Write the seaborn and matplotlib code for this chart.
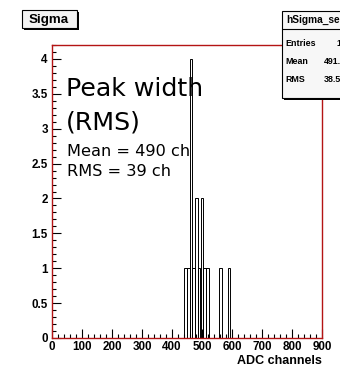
import numpy as np
import pandas as pd
import matplotlib
matplotlib.use("Agg")
import matplotlib.pyplot as plt
from matplotlib.patches import Rectangle
from matplotlib.ticker import MultipleLocator, FuncFormatter
import seaborn as sns

# Histogram of fitted peak widths: 100 bins of 9 ADC channels over 0-900
bin_width = 9
x_max = 900
bin_lows = [441, 450, 459, 468, 477, 486, 495, 504, 513, 558, 585]
bin_counts = [1, 1, 4, 1, 2, 1, 2, 1, 1, 1, 1]

# Statistics box entries
hist_name = "hSigma_sel"
stat_labels = ["Entries", "Mean", "RMS"]
stat_values = ["16", "491.1", "38.52"]

title = "Sigma"
x_title = "ADC channels"
note_lines = ["Peak width", "(RMS)", "Mean = 490 ch", "RMS = 39 ch"]

sns.set_style("ticks")
plt.rcParams["font.family"] = ["Liberation Sans", "DejaVu Sans"]
plt.rcParams["text.color"] = "black"

W, H = 340, 367
fig = plt.figure(figsize=(W / 100, H / 100), dpi=100)
fig.patch.set_facecolor("white")


def fx(px):
    return px / W


def fy(py):
    return 1 - py / H


ax_l, ax_r, ax_t, ax_b = 52, 322, 45, 338
ax = fig.add_axes([fx(ax_l), fy(ax_b), (ax_r - ax_l) / W, (ax_b - ax_t) / H])
ax.set_facecolor("white")

df = pd.DataFrame({"adc": np.array(bin_lows, dtype=float) + bin_width / 2,
                   "n": np.array(bin_counts, dtype=float)})
sns.histplot(data=df, x="adc", weights="n", binwidth=bin_width,
             binrange=(0, x_max), element="bars",
             fill=False, color="black", linewidth=0.7, ax=ax)

ax.set_xlim(0, x_max)
ax.set_ylim(0, 4.2)
ax.set_xlabel("")
ax.set_ylabel("")

frame_col = "#b41414"
for s in ax.spines.values():
    s.set_color(frame_col)
    s.set_linewidth(1.0)
    s.set_visible(True)

ax.xaxis.set_major_locator(MultipleLocator(100))
ax.xaxis.set_minor_locator(MultipleLocator(20))
ax.yaxis.set_major_locator(MultipleLocator(0.5))
ax.yaxis.set_minor_locator(MultipleLocator(0.1))
ax.yaxis.set_major_formatter(FuncFormatter(lambda v, p: f"{v:g}"))
ax.xaxis.set_major_formatter(FuncFormatter(lambda v, p: f"{v:g}"))
ax.tick_params(which="both", direction="in", color="black", width=0.8,
               top=False, right=False, labelcolor="black")
ax.tick_params(which="major", length=6.5)
ax.tick_params(which="minor", length=3)
ax.tick_params(axis="x", which="major", pad=2)
ax.tick_params(axis="y", which="major", pad=3)
for lab in ax.get_xticklabels() + ax.get_yticklabels():
    lab.set_fontsize(8.4)
    lab.set_fontweight("bold")

fig.text(fx(ax_r), fy(361), x_title, ha="right", va="center",
         fontsize=9, fontweight="bold")

# Annotation text
note_font = ["DejaVu Sans"]
ax.text(fx(66), fy(89), note_lines[0], transform=fig.transFigure,
        ha="left", va="center", fontsize=18.2, family=note_font)
ax.text(fx(66), fy(123), note_lines[1], transform=fig.transFigure,
        ha="left", va="center", fontsize=18.2, family=note_font)
ax.text(fx(67), fy(151), note_lines[2], transform=fig.transFigure,
        ha="left", va="center", fontsize=11.6, family=note_font)
ax.text(fx(67), fy(171), note_lines[3], transform=fig.transFigure,
        ha="left", va="center", fontsize=11.6, family=note_font)

# Title box with drop shadow
tl, tr, tt, tb = 22, 77, 10, 28
fig.patches.append(Rectangle((fx(tl + 2), fy(tb + 2)), (tr - tl) / W, (tb - tt) / H,
                             transform=fig.transFigure, facecolor="black",
                             edgecolor="none", zorder=5))
fig.patches.append(Rectangle((fx(tl), fy(tb)), (tr - tl) / W, (tb - tt) / H,
                             transform=fig.transFigure, facecolor="#f3f3f3",
                             edgecolor="black", linewidth=0.8, zorder=6))
fig.text(fx((tl + tr) / 2 - 1), fy((tt + tb) / 2 + 0.5), title, ha="center",
         va="center", fontsize=9.6, fontweight="bold", zorder=7)

# Statistics box (extends past the right edge of the canvas)
sl, sr, st, sb = 282, 352, 11, 98
fig.patches.append(Rectangle((fx(sl + 2), fy(sb + 2)), (sr - sl) / W, (sb - st) / H,
                             transform=fig.transFigure, facecolor="black",
                             edgecolor="none", zorder=5))
fig.patches.append(Rectangle((fx(sl), fy(sb)), (sr - sl) / W, (sb - st) / H,
                             transform=fig.transFigure, facecolor="#f7f7f7",
                             edgecolor="black", linewidth=0.8, zorder=6))
fig.lines.append(plt.Line2D([fx(sl), fx(sr)], [fy(29), fy(29)],
                            transform=fig.transFigure, color="black",
                            linewidth=0.8, zorder=7))
fig.text(fx(286), fy(20), hist_name, ha="left", va="center",
         fontsize=7.3, fontweight="bold", zorder=8)
for i, (lab, val) in enumerate(zip(stat_labels, stat_values)):
    yy = fy(43 + i * 18.5)
    fig.text(fx(285), yy, lab, ha="left", va="center",
             fontsize=6.4, fontweight="bold", zorder=8)
    fig.text(fx(346), yy, val, ha="right", va="center",
             fontsize=6.4, fontweight="bold", zorder=8)

fig.savefig("out.png", dpi=100)
